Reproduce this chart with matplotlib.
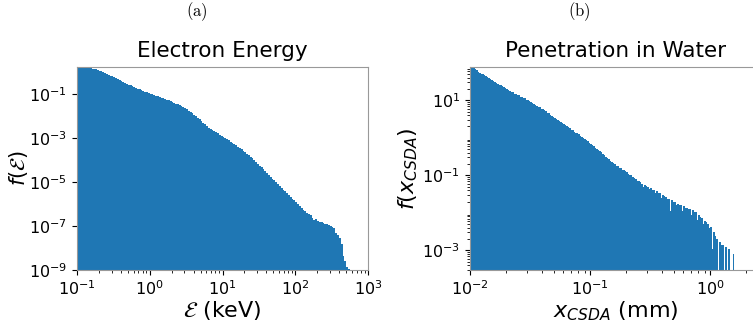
import numpy as np
import matplotlib
matplotlib.use("Agg")
import matplotlib.pyplot as plt

# ---- Data ----
# Panel (a): electron energy histogram, log10 of f per bin; bins 0.025 decade wide from 0.1 keV
energy_log10_edges_start = -1.0
energy_log10_step = 0.025
energy_log10_f = [
    0.24, 0.235, 0.23, 0.22, 0.21, 0.20, 0.19, 0.175, 0.16, 0.14,
    0.12, 0.09, 0.06, 0.03, 0.00, -0.04, -0.08, -0.12, -0.16, -0.20,
    -0.24, -0.285, -0.33, -0.37, -0.41, -0.45, -0.49, -0.53, -0.57, -0.61,
    -0.65, -0.685, -0.72, -0.755, -0.79, -0.825, -0.86, -0.89, -0.92, -0.95,
    -0.98, -1.01, -1.04, -1.07, -1.10, -1.13, -1.16, -1.19, -1.22, -1.255,
    -1.29, -1.325, -1.36, -1.395, -1.43, -1.47, -1.51, -1.555, -1.60, -1.65,
    -1.70, -1.755, -1.81, -1.87, -1.93, -2.00, -2.07, -2.145, -2.22, -2.30,
    -2.38, -2.46, -2.54, -2.59, -2.64, -2.685, -2.73, -2.785, -2.84, -2.895,
    -2.95, -3.00, -3.05, -3.105, -3.16, -3.215, -3.27, -3.33, -3.39, -3.455,
    -3.52, -3.585, -3.65, -3.715, -3.78, -3.85, -3.92, -4.00, -4.08, -4.165,
    -4.25, -4.335, -4.42, -4.505, -4.59, -4.675, -4.76, -4.845, -4.93, -5.01,
    -5.09, -5.175, -5.26, -5.34, -5.42, -5.50, -5.58, -5.665, -5.75, -5.83,
    -5.92, -6.00, -6.10, -6.17, -6.27, -6.33, -6.42, -6.44, -6.52, -6.62,
    -6.72, -6.70, -6.78, -6.80, -6.82, -6.88, -6.92, -6.90, -6.97, -7.02,
    -7.05, -7.10, -7.32, -7.40, -7.55, -7.80, -8.35, -8.60, -8.85, -8.95,
]

# Panel (b): CSDA range histogram, log10 of f per bin; bins 0.0125 decade wide from 0.01 mm
range_log10_edges_start = -2.0
range_log10_step = 0.0125
range_log10_f = [
    1.89, 1.88, 1.85, 1.82, 1.80, 1.76, 1.73, 1.71,
    1.69, 1.66, 1.64, 1.62, 1.59, 1.56, 1.54, 1.51,
    1.49, 1.47, 1.44, 1.42, 1.40, 1.37, 1.35, 1.32,
    1.30, 1.28, 1.25, 1.22, 1.21, 1.18, 1.17, 1.15,
    1.13, 1.10, 1.09, 1.06, 1.05, 1.02, 1.00, 0.97,
    0.96, 0.93, 0.91, 0.88, 0.86, 0.83, 0.81, 0.78,
    0.76, 0.73, 0.71, 0.67, 0.65, 0.61, 0.59, 0.56,
    0.54, 0.50, 0.48, 0.44, 0.42, 0.40, 0.37, 0.33,
    0.31, 0.28, 0.26, 0.22, 0.20, 0.16, 0.14, 0.12,
    0.09, 0.05, 0.03, -0.01, -0.03, -0.07, -0.09, -0.13,
    -0.16, -0.18, -0.22, -0.27, -0.29, -0.32, -0.36, -0.38,
    -0.43, -0.47, -0.50, -0.55, -0.57, -0.62, -0.65, -0.66,
    -0.70, -0.76, -0.76, -0.80, -0.81, -0.86, -0.87, -0.88,
    -0.92, -0.97, -0.98, -1.00, -1.04, -1.08, -1.10, -1.15,
    -1.16, -1.18, -1.22, -1.30, -1.27, -1.28, -1.31, -1.36,
    -1.35, -1.40, -1.39, -1.48, -1.43, -1.46, -1.47, -1.60,
    -1.52, -1.56, -1.57, -1.62, -1.62, -1.95, -1.67, -1.70,
    -1.72, -1.80, -1.76, -1.78, -1.79, -1.95, -1.83, -1.88,
    -1.86, -1.90, -1.89, -2.05, -1.92, -1.98, -1.98, -2.20,
    -2.06, -2.10, -2.14, -2.30, -2.22, -2.25, -2.29, -2.40,
    -2.37, -2.95, -2.50, -2.62, -2.70, -4.00, -2.78, -2.85,
    -2.85, -4.00, -2.90, -4.00, -2.95, -4.00, -4.00, -3.10,
]

titles = ["Electron Energy", "Penetration in Water"]
xlabels = [r"$\mathcal{E}$ (keV)", r"$x_{CSDA}$ (mm)"]
ylabels = [r"$f(\mathcal{E})$", r"$f(x_{CSDA})$"]
panel_tags = [r"$\mathrm{(a)}$", r"$\mathrm{(b)}$"]

color = "#1f77b4"

fig = plt.figure(figsize=(7.53, 3.22), dpi=100)
W, H = 753, 322

def px_axes(x0, x1, y0, y1):
    return fig.add_axes([x0 / W, (H - y1) / H, (x1 - x0) / W, (y1 - y0) / H])

ax1 = px_axes(77, 368, 67, 270)
ax2 = px_axes(470, 761, 67, 270)

# panel (a)
h1 = 10.0 ** np.array(energy_log10_f)
e1 = 10.0 ** (energy_log10_edges_start + energy_log10_step * np.arange(len(h1) + 1))
ax1.stairs(h1, e1, fill=True, color=color, baseline=1e-12)
ax1.set_xscale("log")
ax1.set_yscale("log")
ax1.set_xlim(1e-1, 1e3)
ax1.set_ylim(1e-9, 1.7)
ax1.set_yticks([1e-9, 1e-7, 1e-5, 1e-3, 1e-1])

# panel (b)
h2 = 10.0 ** np.array(range_log10_f)
e2 = 10.0 ** (range_log10_edges_start + range_log10_step * np.arange(len(h2) + 1))
ax2.stairs(h2, e2, fill=True, color=color, baseline=1e-12)
ax2.set_xscale("log")
ax2.set_yscale("log")
ax2.set_xlim(1e-2, 2.66)
ax2.set_ylim(3.0e-4, 77)
ax2.set_yticks([1e-3, 1e-1, 1e1])

ylab_x = [-0.16, -0.172]
ylab_size = [15, 16]
for ax, t, xl, yl, yx, ys in zip([ax1, ax2], titles, xlabels, ylabels, ylab_x, ylab_size):
    ax.set_title(t, fontsize=15.5, pad=7)
    ax.set_xlabel(xl, fontsize=16, labelpad=0.5)
    ax.set_ylabel(yl, fontsize=ys)
    ax.yaxis.set_label_coords(yx, 0.5)
    ax.tick_params(axis="both", which="major", labelsize=11.5)
    for s in ax.spines.values():
        s.set_color("#999999")

fig.text(197 / W, 1 - 12 / H, panel_tags[0], math_fontfamily="cm",
         fontsize=12, ha="center", va="center")
fig.text(579 / W, 1 - 12 / H, panel_tags[1], math_fontfamily="cm",
         fontsize=12, ha="center", va="center")

fig.savefig("out.png", dpi=100)
